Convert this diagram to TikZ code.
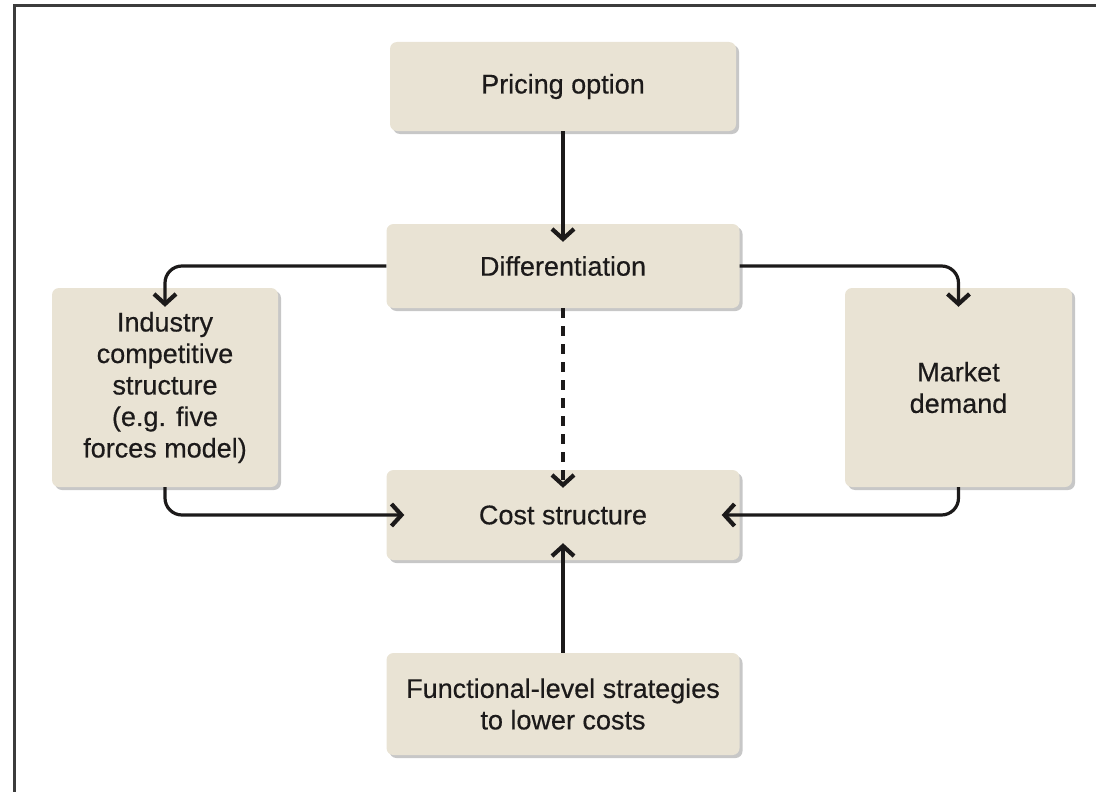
\documentclass[tikz,border=0pt]{standalone}
\usepackage{fontspec}
\setmainfont{Liberation Sans}
% medium-weight face: the regular outlines, slightly emboldened
\newfontfamily\boxfont{Liberation Sans}[BoldFont={Liberation Sans}, BoldFeatures={FakeBold=0.45}]
\usetikzlibrary{arrows.meta,shadows,positioning}
\definecolor{boxfill}{RGB}{233,227,212}
\definecolor{ink}{RGB}{28,26,26}
\definecolor{framecol}{RGB}{60,60,60}
\begin{document}
\begin{tikzpicture}[x=1pt,y=-1pt,
  box/.style={draw=none, fill=boxfill, rounded corners=7pt, align=center,
    text=ink, font=\boxfont\bfseries\fontsize{27}{31.5}\selectfont, inner sep=0pt,
    drop shadow={shadow xshift=3pt, shadow yshift=-3pt, fill=black, opacity=0.22}},
  arr/.style={draw=ink, line width=3.2pt,
    -{Straight Barb[length=10pt,width=22pt,line width=4.2pt]}},
  elbow/.style={rounded corners=17pt}
]
\useasboundingbox (0,0) rectangle (1096,792);

% page frame
\draw[line width=3pt, framecol, line join=miter] (14,792) -- (14,6) -- (1096,6);

% boxes
\node[box, minimum width=346pt, minimum height=89pt] (price) at (563,86.5) {Pricing option};
\node[box, minimum width=353pt, minimum height=84pt] (diff) at (563,266) {Differentiation};
\node[box, minimum width=226pt, minimum height=199pt] (ind) at (165,387.5)
  {Industry\\competitive\\structure\\(e.g. five\\forces model)};
\node[box, minimum width=227pt, minimum height=199pt] (mkt) at (958.5,387.5) {Market\\demand};
\node[box, minimum width=353pt, minimum height=90pt] (cost) at (563,515) {Cost structure};
\node[box, minimum width=353pt, minimum height=102pt] (func) at (563,704)
  {Functional-level strategies\\to lower costs};

% connectors
\draw[arr] (price.south) -- ([yshift=-18pt]diff.north);
\draw[arr, elbow] (diff.west) -| ([yshift=-19pt]ind.north);
\draw[arr, elbow] (diff.east) -| ([yshift=-19pt]mkt.north);
\draw[arr, dash pattern=on 10pt off 8pt] (diff.south) -- ([yshift=-18pt]cost.north);
\draw[arr, elbow] (ind.south) |- ([xshift=18pt]cost.west);
\draw[arr, elbow] (mkt.south) |- ([xshift=-18pt]cost.east);
\draw[arr] (func.north) -- ([yshift=17pt]cost.south);
\end{tikzpicture}
\end{document}
